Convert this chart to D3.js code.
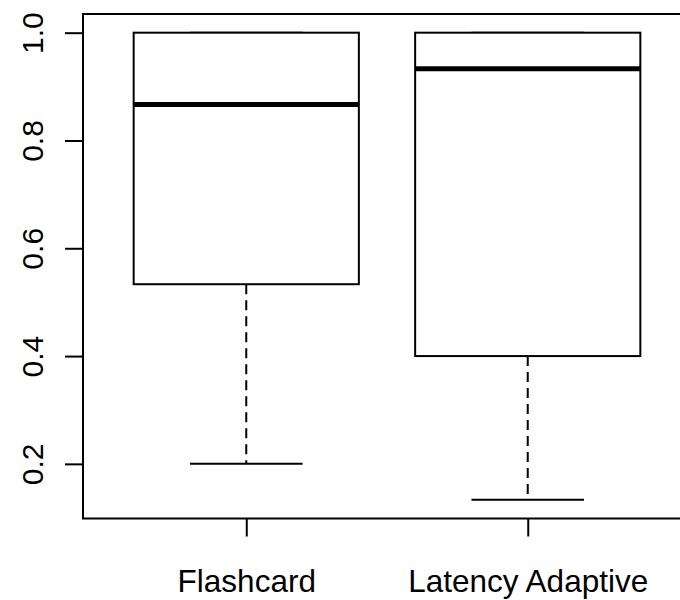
<!DOCTYPE html>
<html>
<head>
<meta charset="utf-8">
<script src="https://cdn.jsdelivr.net/npm/d3@7"></script>
<style>
  html, body { margin: 0; padding: 0; background: #fff; }
  svg { display: block; font-family: "Liberation Sans", Arial, sans-serif; }
</style>
</head>
<body>
<svg id="chart" width="680" height="600"></svg>
<script>
// Five-number summaries for each group
const categories   = ["Flashcard", "Latency Adaptive"];
const lowerWhisker = [0.2, 0.1333];
const lowerQuart   = [0.5333, 0.4];
const medians      = [0.8667, 0.9333];
const upperQuart   = [1.0, 1.0];
const upperWhisker = [1.0, 1.0];
const yTickValues  = [0.2, 0.4, 0.6, 0.8, 1.0];

const rows = categories.map((name, i) => ({
  name, pos: i + 1,
  lo: lowerWhisker[i], q1: lowerQuart[i], med: medians[i],
  q3: upperQuart[i], hi: upperWhisker[i]
}));

const svg = d3.select("#chart");
const plot = { left: 83, right: 691, top: 14, bottom: 518.5 };

// Data range padded by 4% on each side
const yMin = d3.min(lowerWhisker), yMax = d3.max(upperWhisker);
const yPad = (yMax - yMin) * 0.04;
const y = d3.scaleLinear().domain([yMin - yPad, yMax + yPad]).range([plot.bottom, plot.top]);
const xPad = (categories.length + 0.5 - 0.5) * 0.04;
const x = d3.scaleLinear()
  .domain([0.5 - xPad, categories.length + 0.5 + xPad])
  .range([plot.left, plot.right]);

const halfBox = 0.4, halfCap = 0.2;
const ink = "#000";

const g = svg.append("g");

// dashed whiskers
g.selectAll("line.whisk-lo").data(rows).join("line")
  .attr("x1", d => x(d.pos)).attr("x2", d => x(d.pos))
  .attr("y1", d => y(d.q1)).attr("y2", d => y(d.lo))
  .attr("stroke", ink).attr("stroke-width", 2).attr("stroke-dasharray", "10,6");
g.selectAll("line.whisk-hi").data(rows).join("line")
  .attr("x1", d => x(d.pos)).attr("x2", d => x(d.pos))
  .attr("y1", d => y(d.q3)).attr("y2", d => y(d.hi))
  .attr("stroke", ink).attr("stroke-width", 2).attr("stroke-dasharray", "10,6");

// staples
["lo", "hi"].forEach(k => {
  g.selectAll("line.cap-" + k).data(rows).join("line")
    .attr("x1", d => x(d.pos - halfCap)).attr("x2", d => x(d.pos + halfCap))
    .attr("y1", d => y(d[k])).attr("y2", d => y(d[k]))
    .attr("stroke", ink).attr("stroke-width", 2);
});

// boxes
g.selectAll("rect.box").data(rows).join("rect")
  .attr("x", d => x(d.pos - halfBox))
  .attr("width", d => x(d.pos + halfBox) - x(d.pos - halfBox))
  .attr("y", d => y(d.q3))
  .attr("height", d => y(d.q1) - y(d.q3))
  .attr("fill", "#fff").attr("stroke", ink).attr("stroke-width", 2);

// medians
g.selectAll("line.med").data(rows).join("line")
  .attr("x1", d => x(d.pos - halfBox)).attr("x2", d => x(d.pos + halfBox))
  .attr("y1", d => y(d.med)).attr("y2", d => y(d.med))
  .attr("stroke", ink).attr("stroke-width", 5);

// plot frame
svg.append("rect")
  .attr("x", plot.left).attr("y", plot.top)
  .attr("width", plot.right - plot.left).attr("height", plot.bottom - plot.top)
  .attr("fill", "none").attr("stroke", ink).attr("stroke-width", 2);

// left axis with rotated labels
const yAxis = svg.append("g")
  .attr("transform", `translate(${plot.left},0)`)
  .call(d3.axisLeft(y).tickValues(yTickValues).tickSize(18).tickFormat(d3.format(".1f")));
yAxis.select(".domain").remove();
yAxis.selectAll(".tick line").attr("stroke", ink).attr("stroke-width", 2);
yAxis.selectAll(".tick text")
  .attr("x", null).attr("dy", null)
  .attr("transform", "translate(-40,0) rotate(-90)")
  .attr("text-anchor", "middle")
  .attr("fill", ink)
  .style("font-size", "30px")
  .style("font-family", "'Liberation Sans', Arial, sans-serif");

// bottom axis with category names
const xAxis = svg.append("g")
  .attr("transform", `translate(0,${plot.bottom})`)
  .call(d3.axisBottom(x).tickValues(rows.map(d => d.pos)).tickSize(18)
    .tickFormat((d, i) => categories[i]));
xAxis.select(".domain").remove();
xAxis.selectAll(".tick line").attr("stroke", ink).attr("stroke-width", 2);
xAxis.selectAll(".tick text")
  .attr("y", 73.5).attr("dy", null)
  .attr("fill", ink)
  .style("font-size", "31.5px")
  .style("font-family", "'Liberation Sans', Arial, sans-serif");
</script>
</body>
</html>
